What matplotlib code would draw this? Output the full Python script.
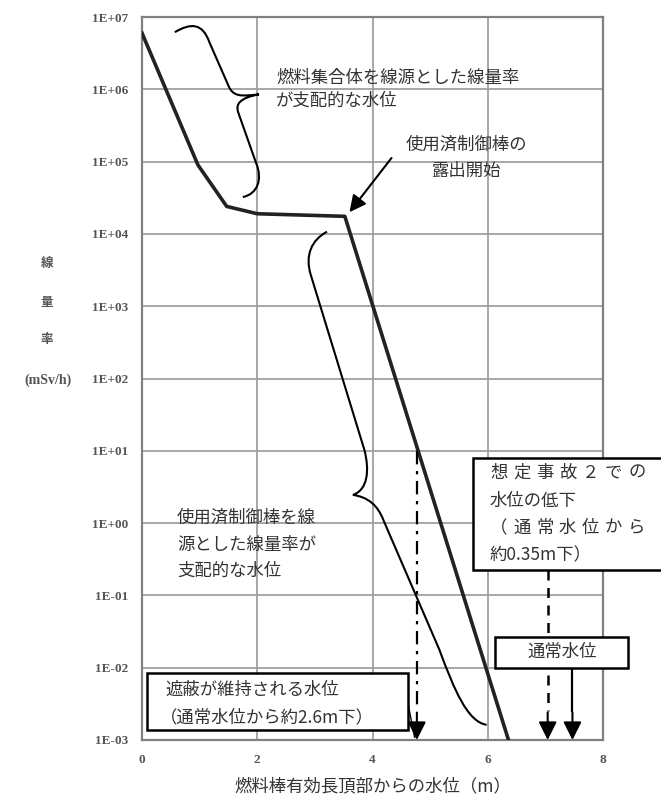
import matplotlib
matplotlib.use("Agg")
import matplotlib.pyplot as plt
from matplotlib.path import Path
from matplotlib.patches import PathPatch, Rectangle
from matplotlib.ticker import FuncFormatter, FixedLocator

plt.rcParams['font.family'] = ['Noto Sans CJK JP', 'DejaVu Sans']

# water level above top of effective fuel length (m) vs dose rate (mSv/h)
water_level = [0.0, 0.97, 1.47, 2.0, 3.52, 6.36]
dose_rate = [6.0e6, 9.0e4, 2.4e4, 1.9e4, 1.75e4, 1.0e-3]

x_ticks = [0, 2, 4, 6, 8]
y_ticks = [1e-3, 1e-2, 1e-1, 1e0, 1e1, 1e2, 1e3, 1e4, 1e5, 1e6, 1e7]

shield_level = 4.77      # level where shielding is kept
accident_level = 7.04    # level after assumed accident 2
normal_level = 7.47      # normal water level

W, H = 661, 797
GRAY = '#555555'


def fx(px):
    return px / W


def fy(py):
    return 1 - py / H


def spaced(fig, x, y, s, step, **kw):
    # text with wider letter spacing, one char at a time
    for i, ch in enumerate(s):
        fig.text(fx(x + i * step), fy(y), ch, **kw)


def main():
    fig = plt.figure(figsize=(W / 100, H / 100), dpi=100)
    ax = fig.add_axes([fx(142), fy(740), fx(603) - fx(142), fy(17) - fy(740)])

    ax.set_yscale('log')
    ax.set_xlim(0, 8)
    ax.set_ylim(1e-3, 1e7)
    ax.xaxis.set_major_locator(FixedLocator(x_ticks))
    ax.yaxis.set_major_locator(FixedLocator(y_ticks))
    ax.yaxis.set_minor_locator(FixedLocator([]))
    ax.yaxis.set_major_formatter(FuncFormatter(lambda v, p: "{:.0E}".format(v)))
    ax.tick_params(length=0, pad=10, labelcolor=GRAY)
    for lab in ax.get_xticklabels() + ax.get_yticklabels():
        lab.set_fontfamily('Liberation Serif')
        lab.set_fontweight('bold')
        lab.set_fontsize(9.5)
    ax.grid(True, color='#a0a0a0', lw=1.3)
    for s in ax.spines.values():
        s.set_color('#808080')
        s.set_linewidth(1.6)

    ax.plot(water_level, dose_rate, color='#222222', lw=2.6, zorder=3)

    ax.set_xlabel("燃料棒有効長頂部からの水位（m）", fontsize=12.5, color='#333333',
                  labelpad=8)

    # y label written vertically, character by character
    for ch, py in [("線", 263), ("量", 302), ("率", 340)]:
        fig.text(fx(47), fy(py), ch, fontsize=9, color=GRAY, ha='center', va='center',
                 fontweight='bold')
    fig.text(fx(48), fy(380), "(mSv/h)", fontsize=10, color=GRAY, ha='center',
             va='center', family='Liberation Serif', fontweight='bold')

    # braces (x, log10 dose)
    brace1 = [(0.57, 6.79), (0.85, 6.92), (1.05, 6.92), (1.17, 6.65),
              (1.50, 6.05),
              (1.58, 5.90), (1.70, 5.90), (2.03, 5.93),
              (1.70, 5.88), (1.62, 5.80), (1.67, 5.68),
              (1.98, 4.98),
              (2.10, 4.75), (2.00, 4.55), (1.75, 4.51)]
    brace2 = [(3.21, 4.03), (2.95, 3.92), (2.82, 3.71), (2.93, 3.43),
              (3.86, 1.01),
              (3.95, 0.73), (3.92, 0.46), (3.66, 0.39),
              (3.92, 0.36), (4.09, 0.25), (4.19, 0.04),
              (5.16, -1.75),
              (5.42, -2.31), (5.65, -2.75), (5.98, -2.79)]
    codes = [Path.MOVETO] + [Path.CURVE4] * 3 + [Path.LINETO] + [Path.CURVE4] * 6 \
        + [Path.LINETO] + [Path.CURVE4] * 3
    for br in (brace1, brace2):
        verts = [(x, 10 ** y) for x, y in br]
        ax.add_patch(PathPatch(Path(verts, codes), fill=False, lw=1.5,
                               color='black', zorder=4, clip_on=False))

    tkw = dict(fontsize=12.5, color='#333333', va='center')
    fig.text(fx(276), fy(78), "燃料集合体を線源とした線量率", **tkw)
    fig.text(fx(276), fy(101), "が支配的な水位", **tkw)
    fig.text(fx(466), fy(145), "使用済制御棒の", ha='center', **tkw)
    fig.text(fx(466), fy(171), "露出開始", ha='center', **tkw)
    fig.text(fx(177), fy(518), "使用済制御棒を線", **tkw)
    fig.text(fx(177), fy(545), "源とした線量率が", **tkw)
    fig.text(fx(177), fy(571), "支配的な水位", **tkw)

    ax.annotate("", xy=(3.60, 10 ** 4.30), xytext=(4.33, 10 ** 5.05),
                arrowprops=dict(arrowstyle='-|>,head_length=1.0,head_width=0.5',
                                color='black', lw=1.5, shrinkA=0, shrinkB=0))

    # boxes
    for x0, y0, x1, y1 in [(473, 458, 680, 570), (495, 637, 628, 668), (147, 673, 408, 730)]:
        fig.patches.append(Rectangle((fx(x0), fy(y1)), fx(x1) - fx(x0), fy(y0) - fy(y1),
                                     transform=fig.transFigure, facecolor='white',
                                     edgecolor='black', lw=1.8, zorder=5))

    bkw = dict(fontsize=12.5, color='#333333', va='center', zorder=6)
    spaced(fig, 490, 473, "想定事故２での", 23, **bkw)
    fig.text(fx(490), fy(501), "水位の低下", **bkw)
    spaced(fig, 490, 528, "（通常水位から", 23, **bkw)
    fig.text(fx(490), fy(555), "約0.35m下）", **bkw)
    fig.text(fx(562), fy(652), "通常水位", ha='center', **bkw)
    fig.text(fx(165), fy(690), "遮蔽が維持される水位", **bkw)
    fig.text(fx(160), fy(717), "（通常水位から約2.6m下）", **bkw)

    # level arrows
    head = dict(arrowstyle='-|>,head_length=1.1,head_width=0.55', color='black',
                lw=1.5, shrinkA=0, shrinkB=0)
    ax.plot([shield_level, shield_level], [10, 10 ** -2.6], color='black', lw=1.6,
            ls=(0, (6, 3, 1.5, 3)), zorder=4)
    ax.plot([accident_level, accident_level], [10 ** -0.65, 10 ** -2.6], color='black',
            lw=1.8, ls=(0, (4, 3)), zorder=4)
    ax.plot([normal_level, normal_level], [10 ** -2.0, 10 ** -2.6], color='black',
            lw=1.6, zorder=4)
    for lv in (shield_level, accident_level, normal_level):
        ax.annotate("", xy=(lv, 1e-3), xytext=(lv, 10 ** -2.62), arrowprops=head,
                    annotation_clip=False)

    # leader from the shielding box to its arrow
    ax.plot([4.58, 4.73], [10 ** -2.35, 10 ** -2.96], color='black', lw=1.0, zorder=7)

    fig.savefig("out.png", dpi=100)


if __name__ == "__main__":
    main()
